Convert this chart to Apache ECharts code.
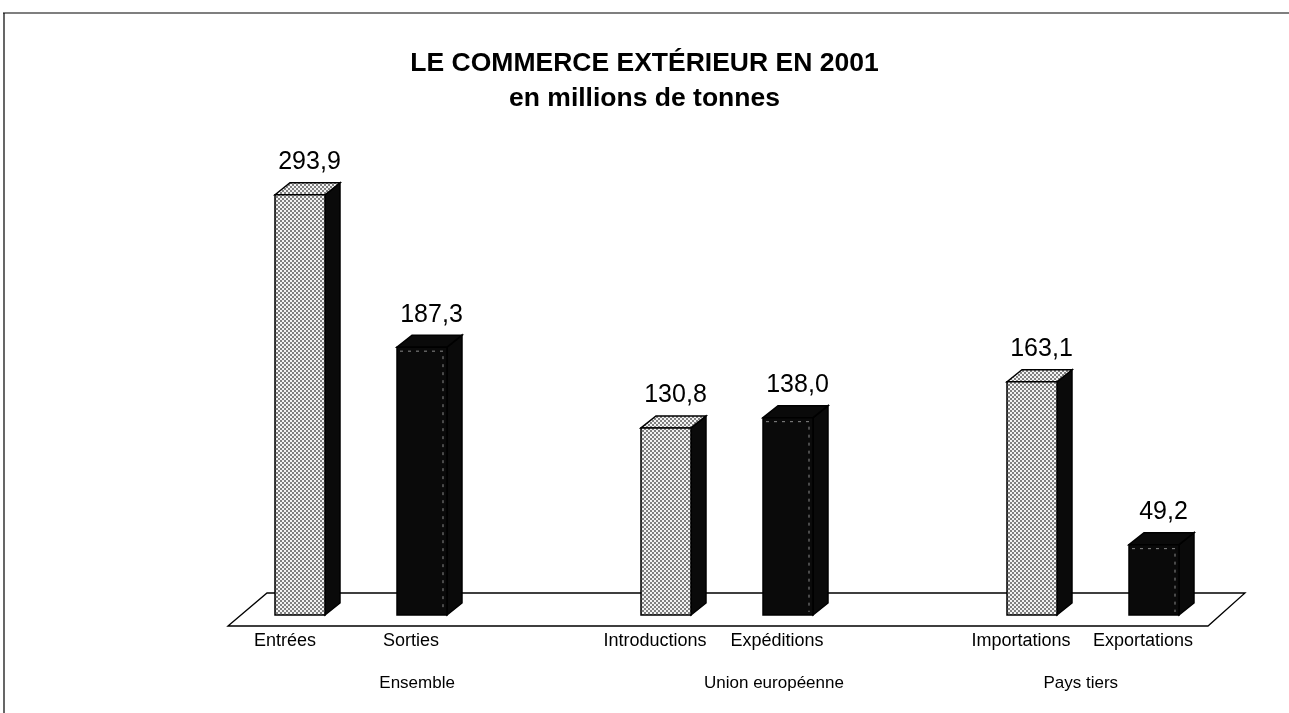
<!DOCTYPE html>
<html>
<head>
<meta charset="utf-8">
<title>Le commerce extérieur en 2001</title>
<script src="https://cdn.jsdelivr.net/npm/echarts@6/dist/echarts.min.js"></script>
<style>
  html, body { margin: 0; padding: 0; background: #ffffff; }
  #chart { width: 1289px; height: 713px; }
</style>
</head>
<body>
<div id="chart"></div>
<script>
// Categories along the floor; empty slots separate the three groups
const categories = ['Entrées', 'Sorties', '', 'Introductions', 'Expéditions', '', 'Importations', 'Exportations'];
// Millions of tonnes
const values = [293.9, 187.3, null, 130.8, 138.0, null, 163.1, 49.2];
// Inbound flows are stippled, outbound flows solid
const shades = ['light', 'dark', null, 'light', 'dark', null, 'light', 'dark'];
// Group captions under the category labels
const groups = ['Ensemble', 'Union européenne', 'Pays tiers'];
const groupLabelAt = [0.96, 3.885, 6.40];

const FONT = '"Liberation Sans", Arial, Helvetica, sans-serif';
const BAR_W = 50;   // front face width
const DX = 15;      // depth offset, horizontal
const DY = 12;      // depth offset, vertical

// Fine stipple used on the light bars
function makeStipple() {
  const c = document.createElement('canvas');
  c.width = 4; c.height = 4;
  const g = c.getContext('2d');
  g.fillStyle = '#f3f3f3';
  g.fillRect(0, 0, 4, 4);
  g.fillStyle = '#808080';
  g.fillRect(0, 0, 2, 2);
  g.fillRect(2, 2, 2, 2);
  return c;
}
const stipple = { image: makeStipple(), repeat: 'repeat' };

const fmt = v => v.toFixed(1).replace('.', ',');

const barData = [];
values.forEach((v, i) => { if (v != null) barData.push([i, v]); });

function renderBar(params, api) {
  const i = api.value(0);
  const v = api.value(1);
  const base = api.coord([i, 0]);
  const top = api.coord([i, v]);
  const x0 = base[0] - BAR_W / 2;
  const x1 = base[0] + BAR_W / 2;
  const yT = top[1];
  const yB = base[1];
  const light = shades[i] === 'light';
  const faceFill = light ? stipple : '#0a0a0a';
  const line = { stroke: '#000', lineWidth: 1.5, lineJoin: 'miter' };
  const children = [
    {
      type: 'polygon',
      shape: { points: [[x1, yT], [x1 + DX, yT - DY], [x1 + DX, yB - DY], [x1, yB]] },
      style: Object.assign({ fill: '#0a0a0a' }, line)
    },
    {
      type: 'polygon',
      shape: { points: [[x0, yT], [x0 + DX, yT - DY], [x1 + DX, yT - DY], [x1, yT]] },
      style: Object.assign({ fill: faceFill }, line)
    },
    {
      type: 'rect',
      shape: { x: x0, y: yT, width: BAR_W, height: yB - yT },
      style: Object.assign({ fill: faceFill }, line)
    }
  ];
  if (!light) {
    // faint highlight just inside the solid front face
    const hl = { stroke: '#8a8a8a', lineWidth: 1, lineDash: [3, 5], fill: null };
    children.push({
      type: 'polyline',
      shape: { points: [[x0 + 3, yT + 4], [x1 - 4, yT + 4], [x1 - 4, yB - 3]] },
      style: hl
    });
  }
  children.push({
    type: 'text',
    x: (x0 + x1 + DX) / 2 + 2,
    y: yT - DY - 8,
    style: {
      text: fmt(v),
      fill: '#000',
      font: '25px ' + FONT,
      align: 'center',
      verticalAlign: 'bottom'
    }
  });
  return { type: 'group', children: children };
}

function renderFloor(params, api) {
  const cs = params.coordSys;
  const yBase = cs.y + cs.height;
  const xl = cs.x, xr = cs.x + cs.width;
  return {
    type: 'polygon',
    shape: {
      points: [
        [xl - 11, yBase + 11],
        [xl + 28, yBase - 22],
        [xr + 30, yBase - 22],
        [xr - 7, yBase + 11]
      ]
    },
    style: { fill: '#ffffff', stroke: '#000', lineWidth: 1.3 }
  };
}

const frame = [
  { id: 'frameTop', type: 'line', shape: { x1: 3, y1: 13, x2: 1289, y2: 13 }, style: { stroke: '#000', lineWidth: 1.2 } },
  { id: 'frameLeft', type: 'line', shape: { x1: 4, y1: 13, x2: 4, y2: 713 }, style: { stroke: '#000', lineWidth: 1.2 } }
];

const chart = echarts.init(document.getElementById('chart'), null, { renderer: 'canvas' });

chart.setOption({
  backgroundColor: '#ffffff',
  animation: false,
  title: {
    text: 'LE COMMERCE EXTÉRIEUR EN 2001',
    subtext: 'en millions de tonnes',
    left: 'center',
    top: 45,
    itemGap: 8,
    textStyle: { fontFamily: FONT, fontSize: 26.5, fontWeight: 'bold', color: '#000' },
    subtextStyle: { fontFamily: FONT, fontSize: 26.5, fontWeight: 'bold', color: '#000' }
  },
  grid: { left: 239, right: 74, top: 186, bottom: 98 },
  xAxis: [
    {
      type: 'category',
      data: categories,
      axisLine: { show: false },
      axisTick: { show: false },
      axisLabel: {
        interval: 0,
        margin: 17,
        color: '#000',
        fontFamily: FONT,
        fontSize: 18,
        formatter: (v, idx) => idx === 0 ? '{e|' + v + '}' : '{a|' + v + '}',
        rich: {
          a: { fontFamily: FONT, fontSize: 18, color: '#000', padding: [0, 22, 0, 0] },
          e: { fontFamily: FONT, fontSize: 18, color: '#000', padding: [0, 30, 0, 0] }
        }
      }
    },
    {
      // hidden twin axis used to place the group captions between slots
      type: 'value',
      min: -0.5,
      max: 7.5,
      show: false
    }
  ],
  yAxis: {
    type: 'value',
    min: 0,
    max: 300,
    show: false
  },
  graphic: frame,
  series: [
    {
      type: 'custom',
      name: 'sol',
      z: 1,
      silent: true,
      data: [[0, 0]],
      renderItem: renderFloor
    },
    {
      type: 'custom',
      name: 'flux',
      z: 2,
      data: barData,
      encode: { x: 0, y: 1 },
      renderItem: renderBar
    }
  ]
});

// Group captions, positioned through the hidden value axis
const baseY = chart.convertToPixel({ yAxisIndex: 0 }, 0);
const captions = groups.map((name, k) => ({
  id: 'group' + k,
  type: 'text',
  x: chart.convertToPixel({ xAxisIndex: 1 }, groupLabelAt[k]),
  y: baseY + 68,
  style: {
    text: name,
    fill: '#000',
    font: '17px ' + FONT,
    align: 'center',
    verticalAlign: 'middle'
  }
}));
chart.setOption({ graphic: frame.concat(captions) });
</script>
</body>
</html>
